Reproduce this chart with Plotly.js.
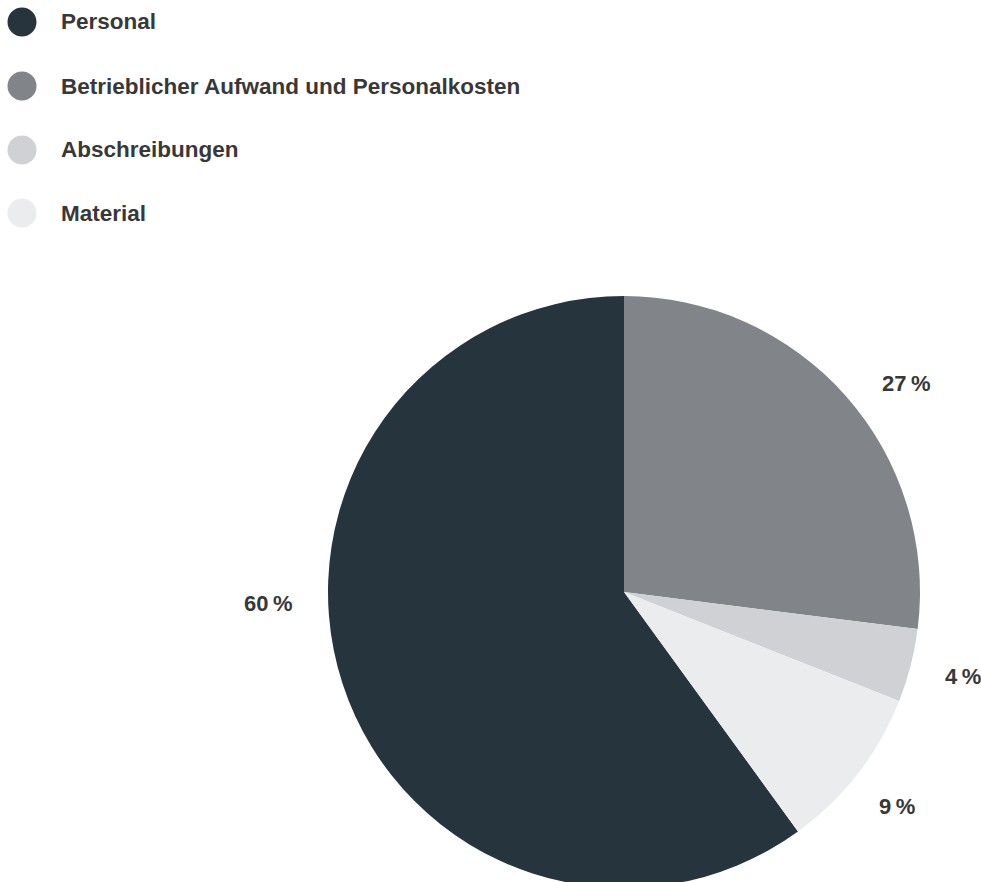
<!DOCTYPE html>
<html>
<head>
<meta charset="utf-8">
<script src="https://cdn.plot.ly/plotly-3.0.1.min.js"></script>
<style>
html,body{margin:0;padding:0;overflow:hidden;background:#fff;}
#chart{width:981px;height:888px;}
</style>
</head>
<body>
<div id="chart"></div>
<script>
// Data
var categories = ["Personal", "Betrieblicher Aufwand und Personalkosten", "Abschreibungen", "Material"];
var values = [60, 27, 4, 9];
var colors = ["#26343d", "#818589", "#d0d1d4", "#ebecee"];

var W = 981, H = 888;
var cx = 624, cy = 592, R = 296;
var font = "Liberation Sans, Arial, sans-serif";
var textColor = "#383838";

// Label positions (pixel) for the percentage labels
var labelPos = [[268, 603], [906, 383], [963, 676], [897, 806]];

var trace = {
  type: "pie",
  labels: categories,
  values: values,
  sort: false,
  direction: "clockwise",
  rotation: 360 - values[0] / values.reduce(function(a, b){return a + b;}, 0) * 360,
  marker: {colors: colors, line: {width: 0}},
  textinfo: "none",
  hoverinfo: "label+percent",
  showlegend: false,
  domain: {x: [(cx - R) / W, (cx + R) / W], y: [(H - cy - R) / H, (H - cy + R) / H]}
};

var annotations = [];
var shapes = [];
// legend
var legY = [22, 86, 150, 213];
categories.forEach(function(c, i) {
  shapes.push({
    type: "circle", xref: "paper", yref: "paper",
    x0: (22 - 14.5) / W, x1: (22 + 14.5) / W,
    y0: 1 - (legY[i] + 14.5) / H, y1: 1 - (legY[i] - 14.5) / H,
    fillcolor: colors[i], line: {width: 0}
  });
  annotations.push({
    xref: "paper", yref: "paper", x: 59 / W, y: 1 - legY[i] / H,
    xanchor: "left", yanchor: "middle", showarrow: false,
    text: "<b>" + c + "</b>",
    font: {family: font, size: 22.5, color: textColor}
  });
});
// percentage labels
values.forEach(function(v, i) {
  annotations.push({
    xref: "paper", yref: "paper", x: labelPos[i][0] / W, y: 1 - labelPos[i][1] / H,
    xanchor: "center", yanchor: "middle", showarrow: false,
    text: "<b>" + v + "\u2009%</b>",
    font: {family: font, size: 22, color: textColor}
  });
});

var layout = {
  width: W, height: H,
  margin: {l: 0, r: 0, t: 0, b: 0},
  paper_bgcolor: "#ffffff",
  plot_bgcolor: "#ffffff",
  showlegend: false,
  annotations: annotations,
  shapes: shapes
};

Plotly.newPlot("chart", [trace], layout, {displayModeBar: false, staticPlot: true});
</script>
</body>
</html>
